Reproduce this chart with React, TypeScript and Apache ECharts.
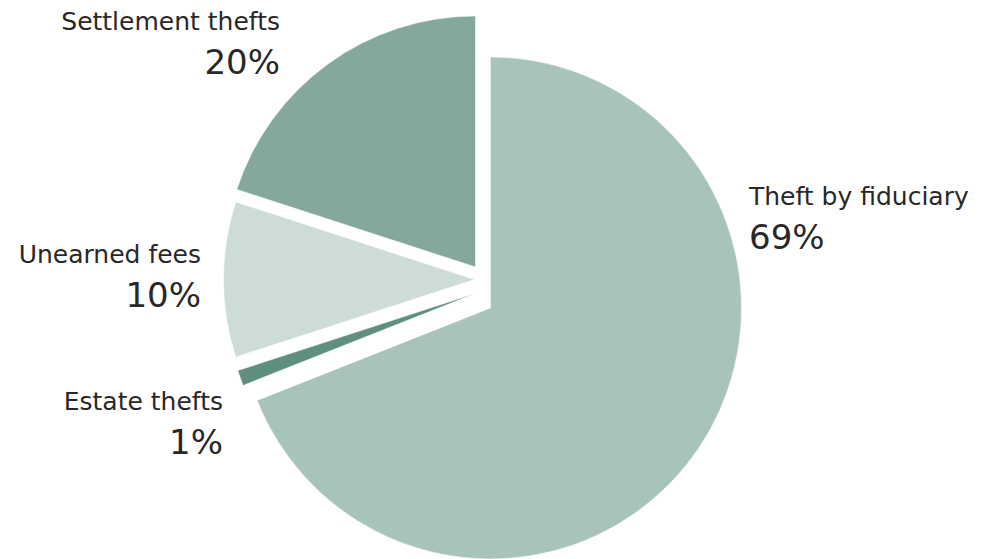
import React, { useEffect, useRef } from 'react';
import * as echarts from 'echarts';

// ---- data ----
const categories = ['Theft by fiduciary', 'Estate thefts', 'Unearned fees', 'Settlement thefts'];
const shares = [69, 1, 10, 20];
const colors = ['#a8c3b8', '#5f8f7e', '#cddcd7', '#84a89b'];

// ---- layout (exploded slice centres and label anchors) ----
const sliceCenters: number[][] = [
  [490.5, 308],
  [476.5, 293],
  [474.5, 279.5],
  [475.5, 267],
];
const labelAnchors: [number, number, string][] = [
  [749, 179, 'left'],
  [223, 384, 'right'],
  [201, 237, 'right'],
  [280, 4, 'right'],
];
const RADIUS = 251;
const FONT = '"DejaVu Sans", sans-serif';

export default function App() {
  const ref = useRef<HTMLDivElement>(null);

  useEffect(() => {
    if (!ref.current) return;
    const chart = echarts.init(ref.current, undefined, { renderer: 'svg' });

    const series = categories.map((_, s) => ({
      type: 'pie',
      center: sliceCenters[s],
      radius: RADIUS,
      startAngle: 90,
      clockwise: true,
      avoidLabelOverlap: false,
      silent: true,
      labelLine: { show: false },
      emphasis: { disabled: true },
      label: {
        position: 'outside',
        formatter: '{n|{b}}\n{p|{d}%}',
        color: '#231f20',
        rich: {
          n: {
            fontFamily: FONT,
            fontSize: 25,
            fontWeight: 'normal',
            lineHeight: 34,
            color: '#2a2728',
            align: labelAnchors[s][2],
          },
          p: {
            fontFamily: FONT,
            fontSize: 34,
            fontWeight: 'normal',
            lineHeight: 48,
            color: '#2a2728',
            align: labelAnchors[s][2],
          },
        },
      },
      labelLayout: () => ({
        x: labelAnchors[s][0],
        y: labelAnchors[s][1],
        align: labelAnchors[s][2],
        verticalAlign: 'top',
      }),
      data: categories.map((name, i) => ({
        name,
        value: shares[i],
        itemStyle:
          i === s
            ? { color: colors[i], borderColor: 'rgba(255,255,255,0.5)', borderWidth: 1 }
            : { color: 'rgba(0,0,0,0)', borderWidth: 0 },
        label: { show: i === s },
      })),
    }));

    chart.setOption({
      animation: false,
      backgroundColor: '#ffffff',
      series,
    } as any);

    return () => chart.dispose();
  }, []);

  return (
    <div
      ref={ref}
      style={{ position: 'fixed', left: 0, top: 0, width: 986, height: 559 }}
    />
  );
}
